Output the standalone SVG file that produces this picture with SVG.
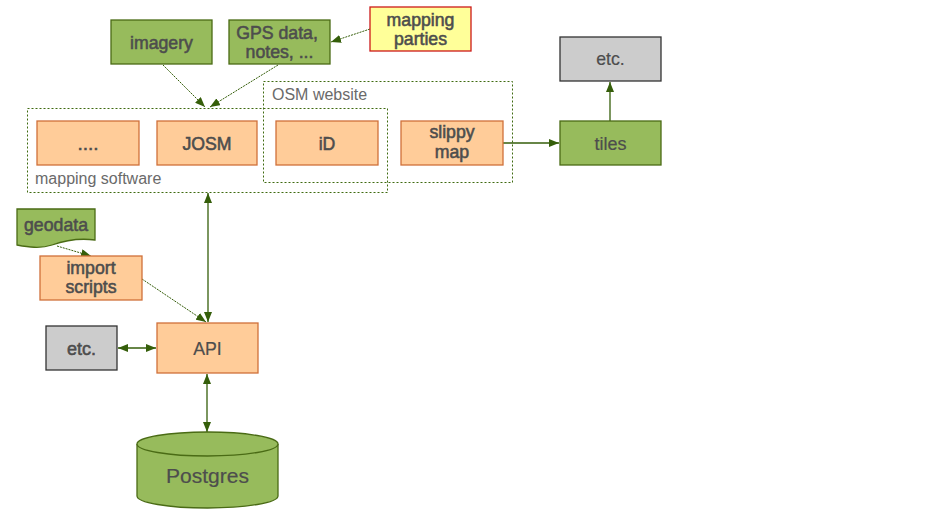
<svg xmlns="http://www.w3.org/2000/svg" width="942" height="531" viewBox="0 0 942 531">
<defs>
<style>
text{font-family:"Liberation Sans",Arial,sans-serif;fill:#4d4d4d;text-anchor:middle}
.b{font-size:17.7px;stroke:#4d4d4d;stroke-width:0.55}
.r{font-size:17.7px;stroke:#4d4d4d;stroke-width:0.2}
.lbl{font-size:16px;fill:#6a6a6a;text-anchor:start}
.green{fill:#97bb5c;stroke:#4a6b15;stroke-width:1.3}
.orange{fill:#ffcc99;stroke:#d0703a;stroke-width:1.3}
.gray{fill:#cccccc;stroke:#333333;stroke-width:1.3}
.yellow{fill:#ffff99;stroke:#cc1a1a;stroke-width:1.3}
.grp{fill:none;stroke:#3f6a10;stroke-width:1;stroke-dasharray:2,2}
.c{fill:none;stroke:#355e0a;stroke-width:1.3}
.d{fill:none;stroke:#355e0a;stroke-width:1;stroke-dasharray:2,1}
</style>
<marker id="ah" viewBox="0 0 10 8" refX="10" refY="4" markerWidth="10" markerHeight="8" markerUnits="userSpaceOnUse" orient="auto-start-reverse">
<path d="M0,0 L10,4 L0,8 Z" fill="#355e0a"/>
</marker>
</defs>

<g id="group-osm-website">
<rect class="grp" x="263.5" y="81.5" width="249" height="101"/>
<text class="lbl" x="272" y="100">OSM website</text>
</g>
<g id="group-mapping-software">
<rect class="grp" x="27.5" y="108.5" width="360" height="84"/>
<text class="lbl" x="35" y="184">mapping software</text>
</g>

<g id="connectors">
<line class="d" x1="163" y1="65" x2="205" y2="107" marker-end="url(#ah)"/>
<line class="d" x1="278" y1="65" x2="210" y2="107" marker-end="url(#ah)"/>
<line class="d" x1="370" y1="29" x2="331" y2="42" marker-end="url(#ah)"/>
<line class="d" x1="57" y1="246" x2="91" y2="256" marker-end="url(#ah)"/>
<line class="d" x1="142" y1="279" x2="206" y2="322" marker-end="url(#ah)"/>
<line class="c" x1="208" y1="193" x2="208" y2="322" marker-start="url(#ah)" marker-end="url(#ah)"/>
<line class="c" x1="118" y1="348" x2="156" y2="348" marker-start="url(#ah)" marker-end="url(#ah)"/>
<line class="c" x1="207" y1="374" x2="207" y2="432" marker-start="url(#ah)" marker-end="url(#ah)"/>
<line class="c" x1="503" y1="143" x2="559" y2="143" marker-end="url(#ah)"/>
<line class="c" x1="610" y1="121" x2="610" y2="82" marker-end="url(#ah)"/>
</g>

<g id="imagery">
<rect class="green" x="111" y="20" width="101" height="44"/>
<text class="b" x="161.5" y="48.5">imagery</text>
</g>
<g id="gps-data">
<rect class="green" x="229" y="20" width="101" height="44"/>
<text class="b" x="277" y="38.5">GPS data,</text>
<text class="b" x="279.5" y="58">notes, ...</text>
</g>
<g id="mapping-parties">
<rect class="yellow" x="370" y="7" width="101" height="44"/>
<text class="b" x="420.5" y="26">mapping</text>
<text class="b" x="420.5" y="45">parties</text>
</g>
<g id="dots">
<rect class="orange" x="37" y="121" width="102" height="44"/>
<text class="b" x="88" y="149.5" style="font-size:19px">....</text>
</g>
<g id="josm">
<rect class="orange" x="157" y="121" width="100" height="44"/>
<text class="b" x="207" y="149.5">JOSM</text>
</g>
<g id="id">
<rect class="orange" x="276" y="121" width="102" height="44"/>
<text class="b" x="327" y="149.5">iD</text>
</g>
<g id="slippy-map">
<rect class="orange" x="401" y="121" width="102" height="44"/>
<text class="b" x="452" y="138">slippy</text>
<text class="b" x="452" y="158">map</text>
</g>
<g id="tiles">
<rect class="green" x="560" y="121" width="101" height="44"/>
<text class="r" x="610.5" y="149.5" style="font-size:18px">tiles</text>
</g>
<g id="etc-top">
<rect class="gray" x="560" y="37" width="101" height="44"/>
<text class="r" x="610.5" y="65">etc.</text>
</g>
<g id="geodata">
<path class="green" d="M17,209 H95 V240 C80,238 66,240 52,245 C40,249 28,247 17,245 Z"/>
<text class="b" x="56" y="231">geodata</text>
</g>
<g id="import-scripts">
<rect class="orange" x="40" y="256" width="102" height="44"/>
<text class="b" x="91" y="273.5">import</text>
<text class="b" x="91" y="293">scripts</text>
</g>
<g id="etc-left">
<rect class="gray" x="46" y="326" width="71" height="44"/>
<text class="b" x="81.5" y="354.5" style="font-size:18px">etc.</text>
</g>
<g id="api">
<rect class="orange" x="157" y="323" width="101" height="50"/>
<text class="r" x="207.5" y="354.5">API</text>
</g>
<g id="postgres">
<path class="green" d="M137,444 V496 A70.5,12 0 0 0 278,496 V444 A70.5,12 0 0 0 137,444 Z"/>
<path class="green" d="M137,444 A70.5,12 0 0 0 278,444"/>
<text class="r" x="207.5" y="483" style="font-size:21px">Postgres</text>
</g>
</svg>
